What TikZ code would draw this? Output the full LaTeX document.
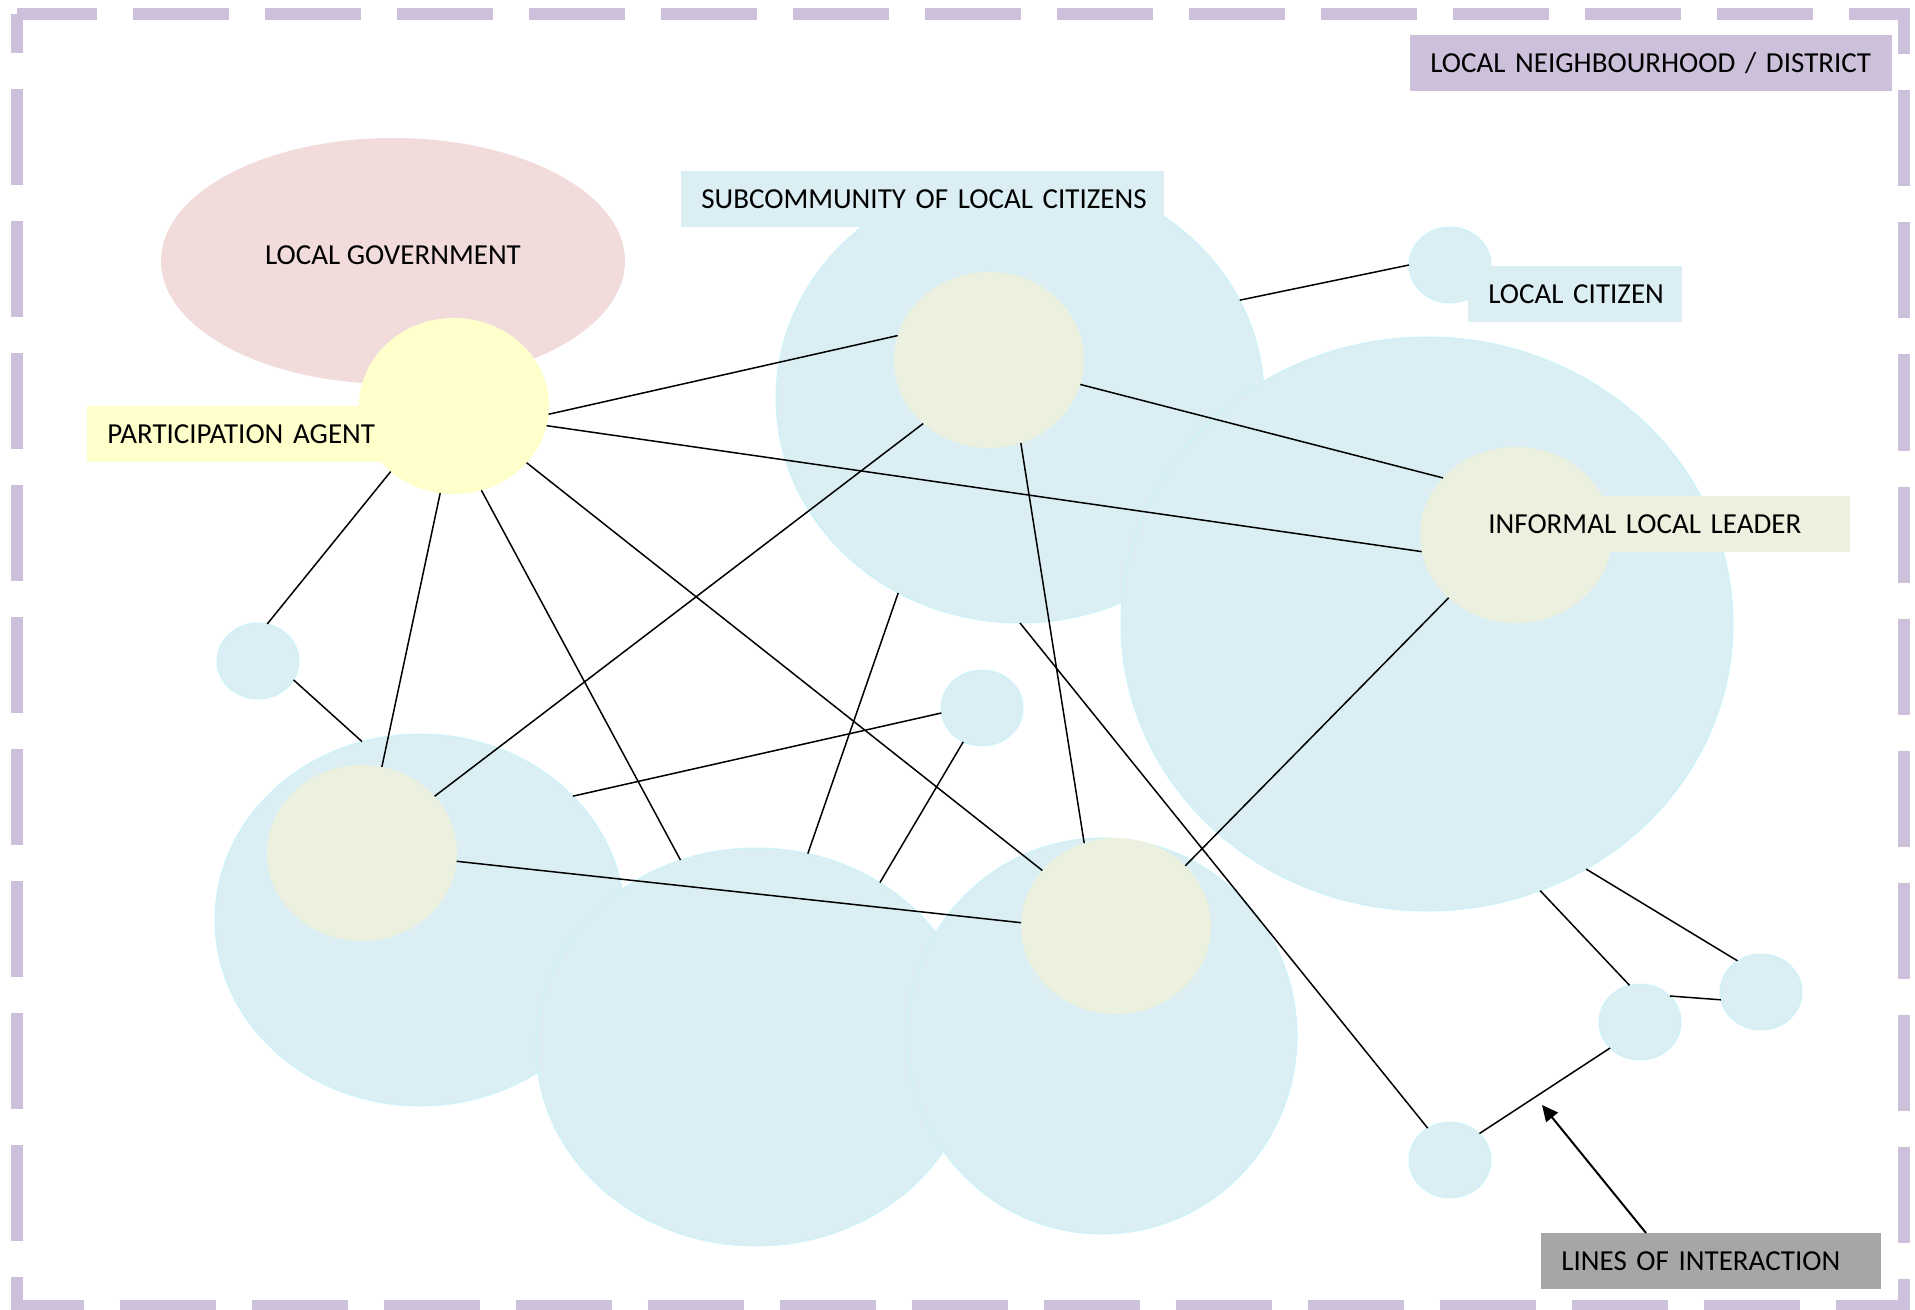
\documentclass[tikz,border=0pt]{standalone}
\usepackage{fontspec}
\setmainfont{Carlito}
\usetikzlibrary{shapes.geometric,arrows.meta}

\definecolor{hoodpurple}{HTML}{CCC0DA}
\definecolor{govpink}{HTML}{F2DCDB}
\definecolor{agentyellow}{HTML}{FFFFCC}
\definecolor{leadergreen}{HTML}{EBF1DE}
\definecolor{citizenblue}{HTML}{DAEEF3}
\definecolor{rimcyan}{HTML}{CCF4FA}
\definecolor{taggray}{HTML}{A6A6A6}

\begin{document}
\begin{tikzpicture}[x=0.5pt,y=-0.5pt,
    font=\fontsize{14.5}{17}\selectfont,
    blob/.style={ellipse, inner sep=0pt, outer sep=0pt},
    community/.style={blob, fill=citizenblue, draw=rimcyan, line width=0.5pt},
    citizen/.style={community, minimum width=41pt, minimum height=38pt},
    leader/.style={blob, fill=leadergreen, minimum width=95pt, minimum height=88pt},
    tag/.style={rectangle, anchor=north west, inner xsep=0pt, inner ysep=0pt,
        minimum height=28pt, text height=9.4pt, text depth=0pt, text width=#1,
        execute at begin node={\leavevmode\hskip10pt\hbox\bgroup},
        execute at end node={\egroup}},
    link/.style={black, line width=0.75pt}]

\useasboundingbox (0,0) rectangle (1915,1310);

% Neighbourhood frame
\draw[hoodpurple, line width=6pt, dash pattern=on 48pt off 18pt, dash phase=28.5pt]
    (16.5,14) rectangle (1904,1306);

% Local government
\node[blob, fill=govpink, minimum width=232pt, minimum height=123pt] (gov) at (393,261) {};
\node (govtext) at ([yshift=3pt]gov.center) {LOCAL GOVERNMENT};

% Subcommunities
\node[community, minimum width=244pt, minimum height=225pt] (subtop) at (1020,398) {};
\node[community, minimum width=306pt, minimum height=287pt] (subright) at (1427,624) {};
\node[community, minimum width=205pt, minimum height=186pt] (subleft) at (420,920) {};
\node[community, minimum width=220pt, minimum height=199pt] (submid) at (756,1047) {};
\node[community, minimum width=195pt, minimum height=198pt] (subbr) at (1102,1036) {};

% Single citizens
\node[citizen] (cit1) at (1450,265) {};
\node[citizen] (cit2) at (258,661) {};
\node[citizen] (cit3) at (982,708) {};
\node[citizen] (cit4) at (1640,1022) {};
\node[citizen] (cit5) at (1761,992) {};
\node[citizen] (cit6) at (1450,1160) {};

% Agent and leaders
\node[blob, fill=agentyellow, minimum width=95pt, minimum height=88pt] (agent) at (454,406) {};
\node[leader] (lead1) at (989,360) {};
\node[leader, minimum width=96pt] (lead2) at (1516,535) {};
\node[leader] (lead3) at (362,853) {};
\node[leader] (lead4) at (1116,926) {};

% Labels
\node[tag=241pt, fill=hoodpurple] (hoodtag) at (1410,35) {LOCAL NEIGHBOURHOOD / DISTRICT};
\node[tag=241.5pt, fill=citizenblue] (subtag) at (681,171) {SUBCOMMUNITY OF LOCAL CITIZENS};
\node[tag=156.5pt, fill=agentyellow] (agenttag) at (87,406) {PARTICIPATION AGENT};
\node[tag=107pt, fill=citizenblue] (cittag) at (1468,266) {LOCAL CITIZEN};
\node[tag=191pt, fill=leadergreen] (leadtag) at (1468,496) {INFORMAL LOCAL LEADER};
\node[tag=170pt, fill=taggray] (linetag) at (1541,1233) {LINES OF INTERACTION};

% Lines of interaction
\draw[link] (agent.-5.5) -- (lead1.165.8);
\draw[link] (agent.-12.6) -- (lead2.190.3);
\draw[link] (agent.226.9) -- (cit2.76.3);
\draw[link] (agent.261.5) -- (lead3.77.7);
\draw[link] (agent.-72.8) -- (submid.112.1);
\draw[link] (agent.-38.8) -- (lead4.143.4);
\draw[link] (cit2.-28.2) -- (subleft.108.9);
\draw[link] (lead1.224.6) -- (lead3.38.1);
\draw[link] (lead1.-15.5) -- (lead2.142.7);
\draw[link] (lead1.-69.7) -- (lead4.111);
\draw[link] (subtop.24) -- (cit1.180);
\draw[link] (subtop.238) -- (submid.75.1);
\draw[link] (subtop.270.5) -- (cit6.125.7);
\draw[link] (cit3.187) -- (subleft.39.8);
\draw[link] (cit3.241.6) -- (submid.53);
\draw[link] (lead3.-5.4) -- (lead4.178.8);
\draw[link] (lead2.223.2) -- (lead4.41);
\draw[link] (subright.-57.4) -- (cit5.127.9);
\draw[link] (subright.-67.4) -- (cit4.106.6);
\draw[link] (cit4.41.9) -- (cit5.191.6);
\draw[link] (cit6.42.9) -- (cit4.221);

% Pointer to the legend
\coordinate (tip) at (1542,1105);
\draw[black, line width=1pt, -{Triangle[length=8pt,width=7.5pt]}]
    ([xshift=52.5pt]linetag.north west) -- (tip);

\end{tikzpicture}
\end{document}
